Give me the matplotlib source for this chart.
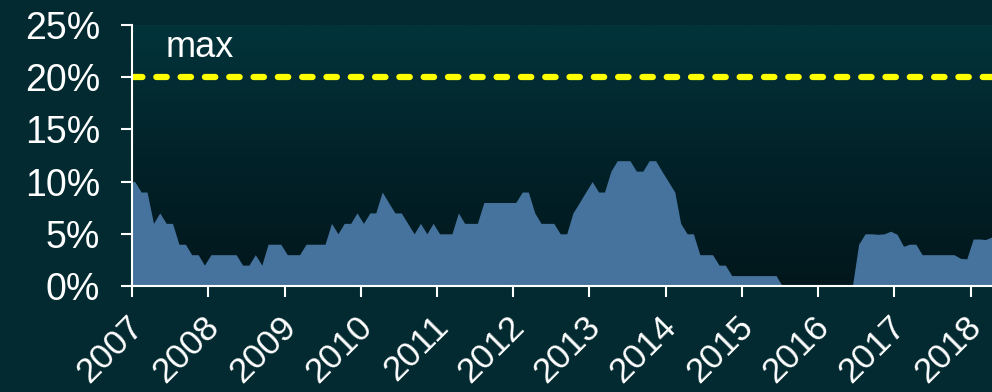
import numpy as np
import pandas as pd
import matplotlib
matplotlib.use("Agg")
import matplotlib.pyplot as plt
import matplotlib.dates as mdates
import matplotlib.transforms as mtransforms
from matplotlib.colors import LinearSegmentedColormap

plt.rcParams['font.family'] = ['Liberation Sans', 'DejaVu Sans']
plt.rcParams['lines.scale_dashes'] = False

# Monthly observations (mid-month), Dec 2006 .. Apr 2018, in percent
month_dates = pd.date_range('2006-12-01', periods=137, freq='MS') + pd.Timedelta(days=13)
share_pct = [
    10, 10, 9, 9, 6, 7, 6, 6, 4, 4, 3, 3, 2,
    3, 3, 3, 3, 3, 2, 2, 3, 2, 4, 4, 4,
    3, 3, 3, 4, 4, 4, 4, 6, 5, 6, 6, 7,
    6, 7, 7, 9, 8, 7, 7, 6, 5, 6, 5, 6,
    5, 5, 5, 7, 6, 6, 6, 8, 8, 8, 8, 8,
    8, 9, 9, 7, 6, 6, 6, 5, 5, 7, 8, 9,
    10, 9, 9, 11, 12, 12, 12, 11, 11, 12, 12, 11,
    10, 9, 6, 5, 5, 3, 3, 3, 2, 2, 1, 1,
    1, 1, 1, 1, 1, 1, 0, 0, 0, 0, 0, 0,
    0, 0, 0, 0, 0, 0, 4, 5, 5, 4.95, 5, 5.25,
    4.95, 3.8, 4, 4, 3, 3, 3, 3, 3, 3, 2.65, 2.6,
    4.5, 4.5, 4.45, 4.7,
]
max_level = 20
max_label = "max"
y_ticks = [0, 5, 10, 15, 20, 25]

fig_bg = '#022a30'
area_color = '#46739d'

fig = plt.figure(figsize=(9.92, 3.92), dpi=100, facecolor=fig_bg)
ax = fig.add_axes([132 / 992, 1 - 286 / 392, 1 - 132 / 992, (286 - 25) / 392])
ax.set_facecolor(fig_bg)

x_start = pd.Timestamp('2007-01-01')
x_end = month_dates[-1]
xs = mdates.date2num(month_dates)
x0, x1 = mdates.date2num(x_start), mdates.date2num(x_end)

# vertical gradient behind the plot area
grad_cmap = LinearSegmentedColormap.from_list('bg', ['#01171c', '#022229', '#03343b'])
grad = np.linspace(0, 1, 256).reshape(-1, 1)
ax.imshow(grad, cmap=grad_cmap, aspect='auto', origin='lower',
          extent=[x0, x1, 0, 25], zorder=0)

ax.fill_between(xs, share_pct, 0, color=area_color, linewidth=0, zorder=2)
ax.axhline(max_level, color='#ffff00', linewidth=4.5, dashes=(7.5, 10),
           dash_capstyle='round', zorder=3)
ax.text(mdates.date2num(pd.Timestamp('2007-06-10')), 21.2, max_label,
        color='white', fontsize=26, ha='left', va='bottom', zorder=4)

ax.set_xlim(x0, x1)
ax.set_ylim(0, 25)
ax.set_yticks(y_ticks)
ax.set_yticklabels([f"{v}%" for v in y_ticks])
ax.xaxis.set_major_locator(mdates.YearLocator())
ax.xaxis.set_major_formatter(mdates.DateFormatter('%Y'))

for side in ('top', 'right'):
    ax.spines[side].set_visible(False)
for side in ('left', 'bottom'):
    ax.spines[side].set_color('white')
    ax.spines[side].set_linewidth(1.5)
    ax.spines[side].set_zorder(5)

ax.tick_params(axis='y', colors='white', labelsize=27, length=8, width=1.5, pad=15)
ax.tick_params(axis='x', colors='white', labelsize=25.5, length=8, width=1.5, pad=14)
label_shift = mtransforms.ScaledTranslation(0.06, -0.05, fig.dpi_scale_trans)
for lbl in ax.get_xticklabels():
    lbl.set_rotation(45)
    lbl.set_ha('right')
    lbl.set_va('center')
    lbl.set_rotation_mode('anchor')
    lbl.set_transform(lbl.get_transform() + label_shift)

fig.savefig('out.png', dpi=100, facecolor=fig_bg)
